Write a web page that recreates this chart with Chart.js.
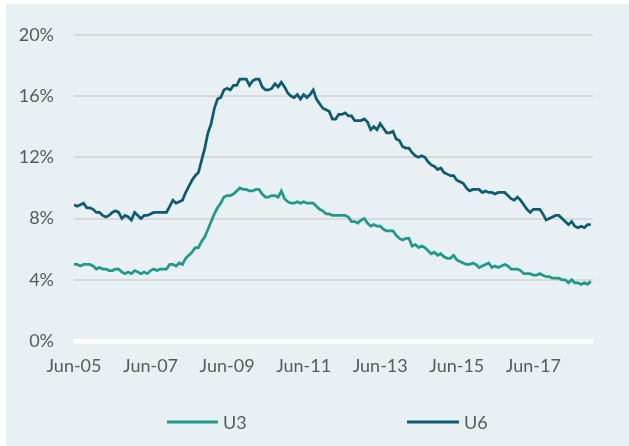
<!DOCTYPE html>
<html>
<head>
<meta charset="utf-8">
<script src="https://cdn.jsdelivr.net/npm/chart.js@4"></script>
<style>
  html, body { margin: 0; padding: 0; background: #ffffff; }
  #wrap { position: absolute; left: 6px; top: 4px; width: 623px; height: 442px; background: #e8f0f3; }
  canvas { display: block; }
</style>
</head>
<body>
<div id="wrap"><canvas id="c" width="623" height="442"></canvas></div>
<script>
// ---- data ----
const monthNames = ['Jan','Feb','Mar','Apr','May','Jun','Jul','Aug','Sep','Oct','Nov','Dec'];
const startYear = 2005, startMonth = 5, monthCount = 163; // Jun-05 .. Dec-18
const categories = [];
for (let i = 0; i < monthCount; i++) {
  const m = (startMonth + i) % 12;
  const y = startYear + Math.floor((startMonth + i) / 12);
  categories.push(monthNames[m] + '-' + String(y % 100).padStart(2, '0'));
}
const xTickLabels = ['Jun-05','Jun-07','Jun-09','Jun-11','Jun-13','Jun-15','Jun-17'];
const yTicks = [0, 4, 8, 12, 16, 20];

const u3 = [
  5.0,5.0,4.9,5.0,5.0,5.0,4.9,
  4.7,4.8,4.7,4.7,4.6,4.6,4.7,4.7,4.5,4.4,4.5,4.4,
  4.6,4.5,4.4,4.5,4.4,4.6,4.7,4.6,4.7,4.7,4.7,5.0,
  5.0,4.9,5.1,5.0,5.4,5.6,5.8,6.1,6.1,6.5,6.8,7.3,
  7.8,8.3,8.7,9.0,9.4,9.5,9.5,9.6,9.8,10.0,9.9,9.9,
  9.8,9.8,9.9,9.9,9.6,9.4,9.4,9.5,9.5,9.4,9.8,9.3,
  9.1,9.0,9.0,9.1,9.0,9.1,9.0,9.0,9.0,8.8,8.6,8.5,
  8.3,8.3,8.2,8.2,8.2,8.2,8.2,8.1,7.8,7.8,7.7,7.9,
  8.0,7.7,7.5,7.6,7.5,7.5,7.3,7.2,7.2,7.2,6.9,6.7,
  6.6,6.7,6.7,6.2,6.3,6.1,6.2,6.1,5.9,5.7,5.8,5.6,
  5.7,5.5,5.4,5.4,5.6,5.3,5.2,5.1,5.0,5.0,5.1,5.0,
  4.8,4.9,5.0,5.1,4.8,4.9,4.8,4.9,5.0,4.9,4.7,4.7,
  4.7,4.6,4.4,4.4,4.4,4.3,4.3,4.4,4.3,4.2,4.2,4.1,
  4.1,4.1,4.0,4.0,3.8,4.0,3.8,3.8,3.7,3.8,3.7,3.9
];
const u6 = [
  8.9,8.8,8.9,9.0,8.7,8.7,8.6,
  8.4,8.4,8.2,8.1,8.2,8.4,8.5,8.4,8.0,8.2,8.1,7.9,
  8.4,8.2,8.0,8.2,8.2,8.3,8.4,8.4,8.4,8.4,8.4,8.8,
  9.2,9.0,9.1,9.2,9.7,10.1,10.5,10.8,11.0,11.8,12.6,13.6,
  14.2,15.2,15.8,15.9,16.4,16.5,16.4,16.7,16.7,17.1,17.1,17.1,
  16.7,17.0,17.1,17.1,16.6,16.4,16.4,16.5,16.8,16.6,16.9,16.6,
  16.2,16.0,15.9,16.1,15.8,16.1,15.9,16.1,16.4,15.8,15.5,15.2,
  15.1,15.0,14.5,14.5,14.8,14.8,14.9,14.7,14.7,14.4,14.4,14.4,
  14.5,14.3,13.8,14.0,13.8,14.2,13.9,13.6,13.6,13.7,13.2,13.1,
  12.7,12.6,12.6,12.3,12.1,12.0,12.1,12.0,11.7,11.5,11.4,11.2,
  11.3,11.0,10.9,10.8,10.8,10.5,10.4,10.3,10.0,9.8,9.9,9.9,
  9.9,9.7,9.8,9.7,9.7,9.6,9.7,9.7,9.7,9.5,9.3,9.2,
  9.4,9.2,8.9,8.6,8.4,8.6,8.6,8.6,8.3,7.9,8.0,8.1,
  8.2,8.2,8.0,7.8,7.6,7.8,7.5,7.4,7.5,7.4,7.6,7.6
];
const seriesNames = ['U3', 'U6'];

// ---- styling ----
const FONT = 'Lato, "Open Sans", sans-serif';
const TEXT = '#595959';
const C_U3 = '#1f9a8a';
const C_U6 = '#0b5c73';

const toPoints = arr => arr.map((v, i) => ({ x: i, y: v }));
const xTickIdx = xTickLabels.map(l => categories.indexOf(l));

const customLegend = {
  id: 'customLegend',
  afterDraw(chart) {
    const ctx = chart.ctx;
    const items = [
      { x0: 161, x1: 212 },
      { x0: 401, x1: 453 }
    ];
    const y = 418;
    ctx.save();
    chart.data.datasets.forEach((ds, i) => {
      const it = items[i];
      ctx.strokeStyle = ds.borderColor;
      ctx.lineWidth = 3;
      ctx.beginPath();
      ctx.moveTo(it.x0, y);
      ctx.lineTo(it.x1, y);
      ctx.stroke();
      ctx.fillStyle = TEXT;
      ctx.font = '18px ' + FONT;
      ctx.textBaseline = 'middle';
      ctx.textAlign = 'left';
      ctx.fillText(ds.label, it.x1 + 5, y + 1);
    });
    ctx.restore();
  }
};

new Chart(document.getElementById('c'), {
  type: 'line',
  data: {
    datasets: [
      { label: seriesNames[0], data: toPoints(u3), borderColor: C_U3, backgroundColor: C_U3, borderWidth: 2.75, pointRadius: 0, tension: 0 },
      { label: seriesNames[1], data: toPoints(u6), borderColor: C_U6, backgroundColor: C_U6, borderWidth: 2.75, pointRadius: 0, tension: 0 }
    ]
  },
  options: {
    responsive: false,
    animation: false,
    layout: { padding: { left: 0, right: 36, top: 29, bottom: 50 } },
    plugins: {
      legend: { display: false },
      tooltip: { enabled: false }
    },
    scales: {
      x: {
        type: 'linear',
        min: 0,
        max: 162.7,
        afterBuildTicks: s => { s.ticks = xTickIdx.map(v => ({ value: v })); },
        grid: { display: false, drawTicks: false },
        border: { display: false },
        ticks: {
          autoSkip: false,
          maxRotation: 0,
          minRotation: 0,
          padding: 14,
          color: TEXT,
          font: { family: FONT, size: 18 },
          callback: v => categories[Math.round(v)]
        },
        afterFit: s => { s.height = 55; }
      },
      y: {
        min: 0,
        max: 20,
        afterBuildTicks: s => { s.ticks = yTicks.map(v => ({ value: v })); },
        grid: {
          drawTicks: false,
          color: c => (c.tick && c.tick.value === 0) ? '#ffffff' : '#d9d9d9',
          lineWidth: c => (c.tick && c.tick.value === 0) ? 4.5 : 2
        },
        border: { display: false },
        ticks: {
          padding: 20,
          color: TEXT,
          font: { family: FONT, size: 18 },
          callback: v => v + '%'
        },
        afterFit: s => { s.width = 68; }
      }
    }
  },
  plugins: [customLegend]
});
</script>
</body>
</html>
